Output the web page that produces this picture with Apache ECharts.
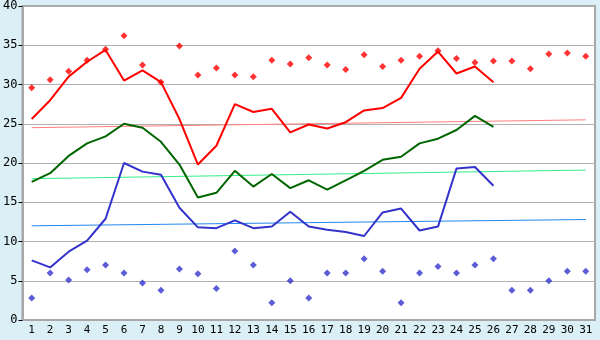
<!DOCTYPE html>
<html>
<head>
<meta charset="utf-8">
<script src="https://cdn.jsdelivr.net/npm/echarts@6/dist/echarts.min.js"></script>
<style>
  html, body { margin: 0; padding: 0; background: #daeff6; }
  #chart { width: 600px; height: 340px; }
</style>
</head>
<body>
<div id="chart"></div>
<script>
const days = Array.from({ length: 31 }, (_, i) => String(i + 1));

// line series (days 1-26)
const redLine = [25.6, 28.0, 31.0, 32.9, 34.4, 30.5, 31.8, 30.3, 25.6, 19.8,
  22.2, 27.5, 26.5, 26.9, 23.9, 24.9, 24.4, 25.2, 26.7, 27.0,
  28.3, 32.0, 34.2, 31.4, 32.3, 30.3];
const greenLine = [17.6, 18.7, 20.9, 22.5, 23.4, 25.0, 24.5, 22.7, 19.8, 15.6,
  16.2, 19.0, 17.0, 18.6, 16.8, 17.8, 16.6, 17.8, 19.0, 20.4,
  20.8, 22.5, 23.1, 24.2, 26.0, 24.6];
const blueLine = [7.6, 6.7, 8.7, 10.1, 12.9, 20.0, 18.9, 18.5, 14.3, 11.8,
  11.7, 12.7, 11.7, 11.9, 13.8, 11.9, 11.5, 11.2, 10.7, 13.7,
  14.2, 11.4, 11.9, 19.3, 19.5, 17.1];

// diamond markers (days 1-31)
const redPoints = [29.6, 30.6, 31.7, 33.1, 34.5, 36.2, 32.5, 30.3, 34.9, 31.2,
  32.1, 31.2, 31.0, 33.1, 32.6, 33.4, 32.5, 31.9, 33.8, 32.3,
  33.1, 33.6, 34.3, 33.3, 32.8, 33.0, 33.0, 32.0, 33.9, 34.0, 33.6];
const bluePoints = [2.8, 6.0, 5.1, 6.4, 7.0, 6.0, 4.7, 3.8, 6.5, 5.9,
  4.0, 8.8, 7.0, 2.2, 5.0, 2.8, 6.0, 6.0, 7.8, 6.2,
  2.2, 6.0, 6.8, 6.0, 7.0, 7.8, 3.8, 3.8, 5.0, 6.2, 6.2];

// trend lines: value at day 1 and day 31
const redTrend = [24.5, 25.5];
const greenTrend = [18.0, 19.1];
const blueTrend = [12.0, 12.8];

const chart = echarts.init(document.getElementById('chart'));

function lineSeries(data, color, width) {
  return {
    type: 'line', data: data, symbol: 'none', silent: true,
    lineStyle: { color: color, width: width }, z: 3
  };
}
function trendSeries(ends, color) {
  return {
    type: 'line', symbol: 'none', silent: true,
    data: [[days[0], ends[0]], [days[30], ends[1]]],
    lineStyle: { color: color, width: 1 }, z: 2
  };
}
function pointSeries(data, color) {
  return {
    type: 'scatter', data: data, symbol: 'diamond', symbolSize: 7,
    itemStyle: { color: color }, z: 4
  };
}

const option = {
  backgroundColor: '#daeff6',
  animation: false,
  grid: {
    left: 20, right: 5, top: 5, bottom: 20,
    show: true, backgroundColor: '#ffffff', borderColor: '#a8a8a8', borderWidth: 2
  },
  xAxis: {
    type: 'category',
    data: days,
    boundaryGap: true,
    axisLine: { lineStyle: { color: '#a8a8a8', width: 2 } },
    axisTick: { alignWithLabel: true, length: 4, lineStyle: { color: '#000' } },
    axisLabel: { color: '#000', fontFamily: 'DejaVu Sans Mono', fontSize: 11, margin: 5, interval: 0 }
  },
  yAxis: {
    type: 'value', min: 0, max: 40, interval: 5,
    axisLine: { show: true, lineStyle: { color: '#a8a8a8', width: 2 } },
    axisTick: { show: true, length: 4, lineStyle: { color: '#000' } },
    axisLabel: { color: '#000', fontFamily: 'DejaVu Sans Mono', fontSize: 12, margin: 5 },
    splitLine: { lineStyle: { color: '#b0b0b0', width: 1 } }
  },
  series: [
    trendSeries(redTrend, '#ff8080'),
    trendSeries(greenTrend, '#33ee88'),
    trendSeries(blueTrend, '#2288ee'),
    lineSeries(redLine, '#ff0000', 2),
    lineSeries(greenLine, '#006600', 2),
    lineSeries(blueLine, '#3333cc', 2),
    pointSeries(redPoints, '#ff0000'),
    pointSeries(bluePoints, '#3333cc')
  ]
};

chart.setOption(option);
</script>
</body>
</html>
